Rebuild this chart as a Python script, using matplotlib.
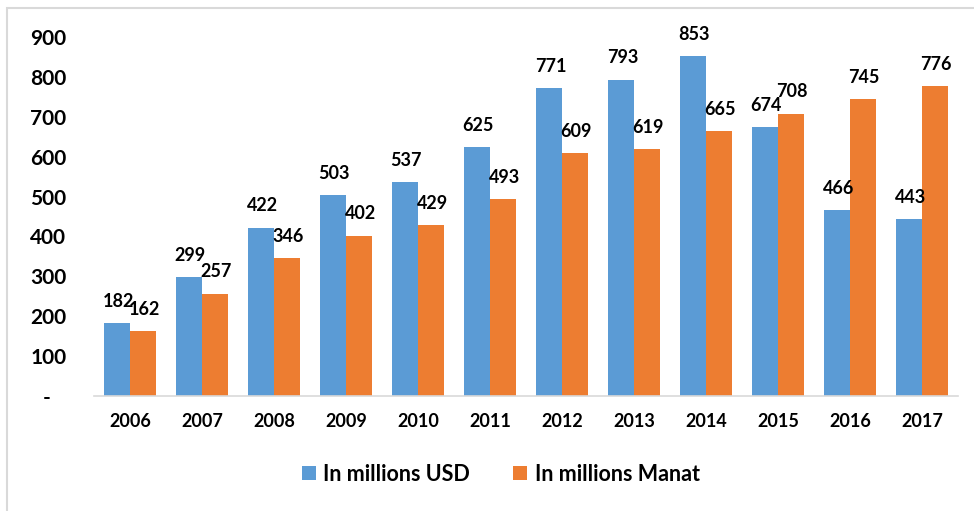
import matplotlib
matplotlib.use('Agg')

import matplotlib.pyplot as plt, numpy as np
from matplotlib.patches import Rectangle

years = ['2006', '2007', '2008', '2009', '2010', '2011',
         '2012', '2013', '2014', '2015', '2016', '2017']
usd = [182, 299, 422, 503, 537, 625, 771, 793, 853, 674, 466, 443]
manat = [162, 257, 346, 402, 429, 493, 609, 619, 665, 708, 745, 776]
yticks = [0, 100, 200, 300, 400, 500, 600, 700, 800, 900]
ytick_labels = ['-   ', '100', '200', '300', '400', '500', '600', '700', '800', '900']

plt.rcParams['font.family'] = ['Lato', 'DejaVu Sans']
plt.rcParams['font.weight'] = 'bold'

blue = '#5B9BD5'
orange = '#ED7D31'

fig = plt.figure(figsize=(9.74, 5.11), dpi=100)
ax = fig.add_axes([0.0965, 0.225, 0.887, 0.7026])

x = np.arange(len(years))
w = 0.36
b1 = ax.bar(x - w / 2, usd, w, color=blue, label='In millions USD')
b2 = ax.bar(x + w / 2, manat, w, color=orange, label='In millions Manat')

for bars in (b1, b2):
    for rect in bars:
        h = rect.get_height()
        ax.annotate(f'{h:.0f}', (rect.get_x() + rect.get_width() / 2, h),
                    xytext=(1, 9.5), textcoords='offset points',
                    ha='center', va='bottom', fontsize=13,
                    fontweight='bold', annotation_clip=False)

ax.set_xlim(-0.5, len(years) - 0.5)
ax.set_ylim(0, 900)
ax.set_yticks(yticks)
ax.set_yticklabels(ytick_labels)
ax.set_xticks(x)
ax.set_xticklabels(years)
ax.tick_params(axis='both', length=0)
ax.tick_params(axis='y', pad=20, labelsize=15)
ax.tick_params(axis='x', pad=12, labelsize=13)
for lbl in ax.get_xticklabels() + ax.get_yticklabels():
    lbl.set_fontweight('bold')

for s in ('top', 'right', 'left'):
    ax.spines[s].set_visible(False)
ax.spines['bottom'].set_color('#d9d9d9')
ax.spines['bottom'].set_linewidth(1.2)

leg = fig.legend(handles=[b1, b2], loc='center', bbox_to_anchor=(0.514, 0.072),
                 ncol=2, frameon=False, fontsize=15.5, handlelength=0.65,
                 handleheight=0.65, handletextpad=0.35, columnspacing=2.0)
for t in leg.get_texts():
    t.set_fontweight('bold')

# light gray chart-area frame
fig.patches.append(Rectangle((7 / 974, -0.1), 1.2, 0.1 + 1 - 8 / 511,
                             transform=fig.transFigure, fill=False,
                             edgecolor='#d9d9d9', linewidth=1.5))

fig.savefig('out.png', dpi=100)
plt.close(fig)
